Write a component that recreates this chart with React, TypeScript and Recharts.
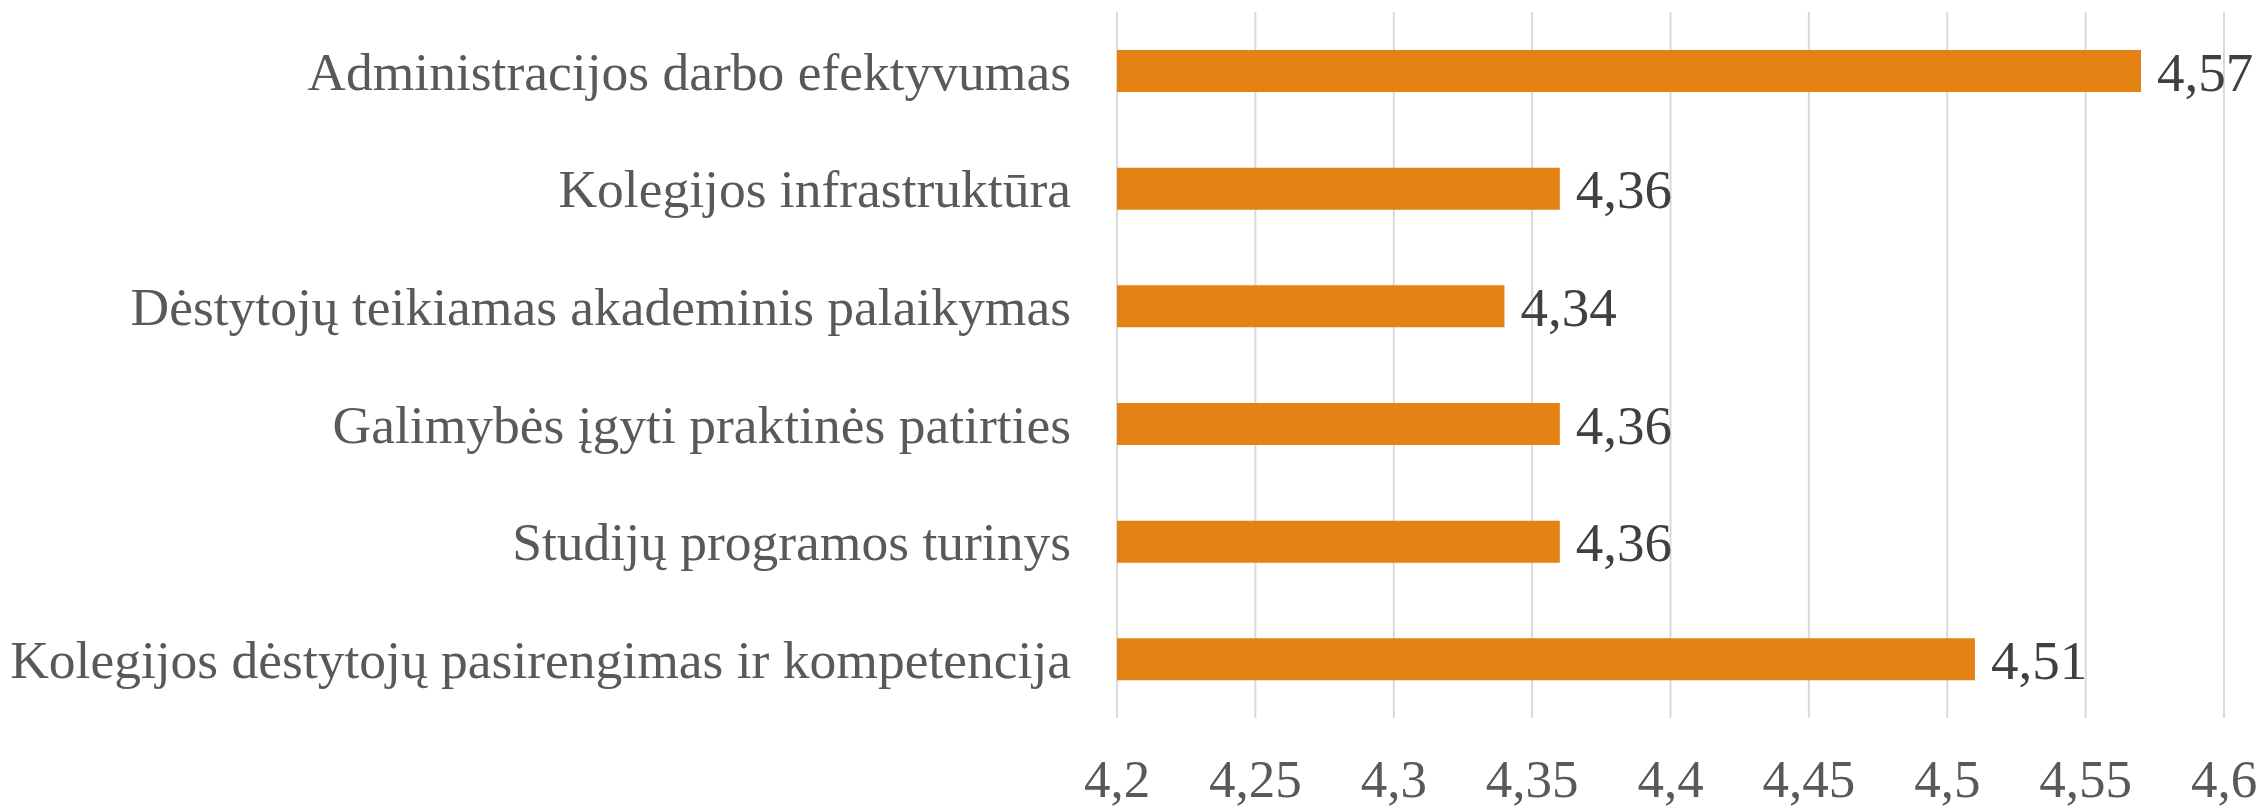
import { BarChart, Bar, XAxis, YAxis, CartesianGrid, LabelList } from "recharts";

const categories = [
  "Administracijos darbo efektyvumas",
  "Kolegijos infrastruktūra",
  "Dėstytojų teikiamas akademinis palaikymas",
  "Galimybės įgyti praktinės patirties",
  "Studijų programos turinys",
  "Kolegijos dėstytojų pasirengimas ir kompetencija",
];
const scores = [4.57, 4.36, 4.34, 4.36, 4.36, 4.51];
const xTicks = [4.2, 4.25, 4.3, 4.35, 4.4, 4.45, 4.5, 4.55, 4.6];

const data = categories.map((name, i) => ({ name, value: scores[i] }));

const comma = (v: number) => String(v).replace(".", ",");

export default function App() {
  return (
    <div style={{ position: "absolute", left: 0, top: 0, background: "#fff" }}>
      <BarChart
        width={2268}
        height={808}
        data={data}
        layout="vertical"
        margin={{ top: 12, right: 44, bottom: 0, left: 0 }}
        style={{ fontFamily: "'Liberation Serif', 'Times New Roman', serif" }}
      >
        <CartesianGrid horizontal={false} stroke="#d9d9d9" strokeWidth={2} />
        <XAxis
          type="number"
          domain={[4.2, 4.6]}
          ticks={xTicks}
          tickFormatter={comma}
          axisLine={false}
          tickLine={false}
          tickSize={0}
          tickMargin={41}
          height={90}
          interval={0}
          tick={{ fill: "#595959", fontSize: 53 }}
        />
        <YAxis
          type="category"
          dataKey="name"
          width={1117}
          axisLine={false}
          tickLine={false}
          tickSize={0}
          tickMargin={46}
          interval={0}
          tick={{ fill: "#595959", fontSize: 53.5 }}
        />
        <Bar dataKey="value" fill="#e48213" barSize={42} isAnimationActive={false}>
          <LabelList
            dataKey="value"
            position="right"
            offset={16}
            formatter={(v: any) => comma(v)}
            style={{ fill: "#404040", fontSize: 55 }}
          />
        </Bar>
      </BarChart>
    </div>
  );
}
